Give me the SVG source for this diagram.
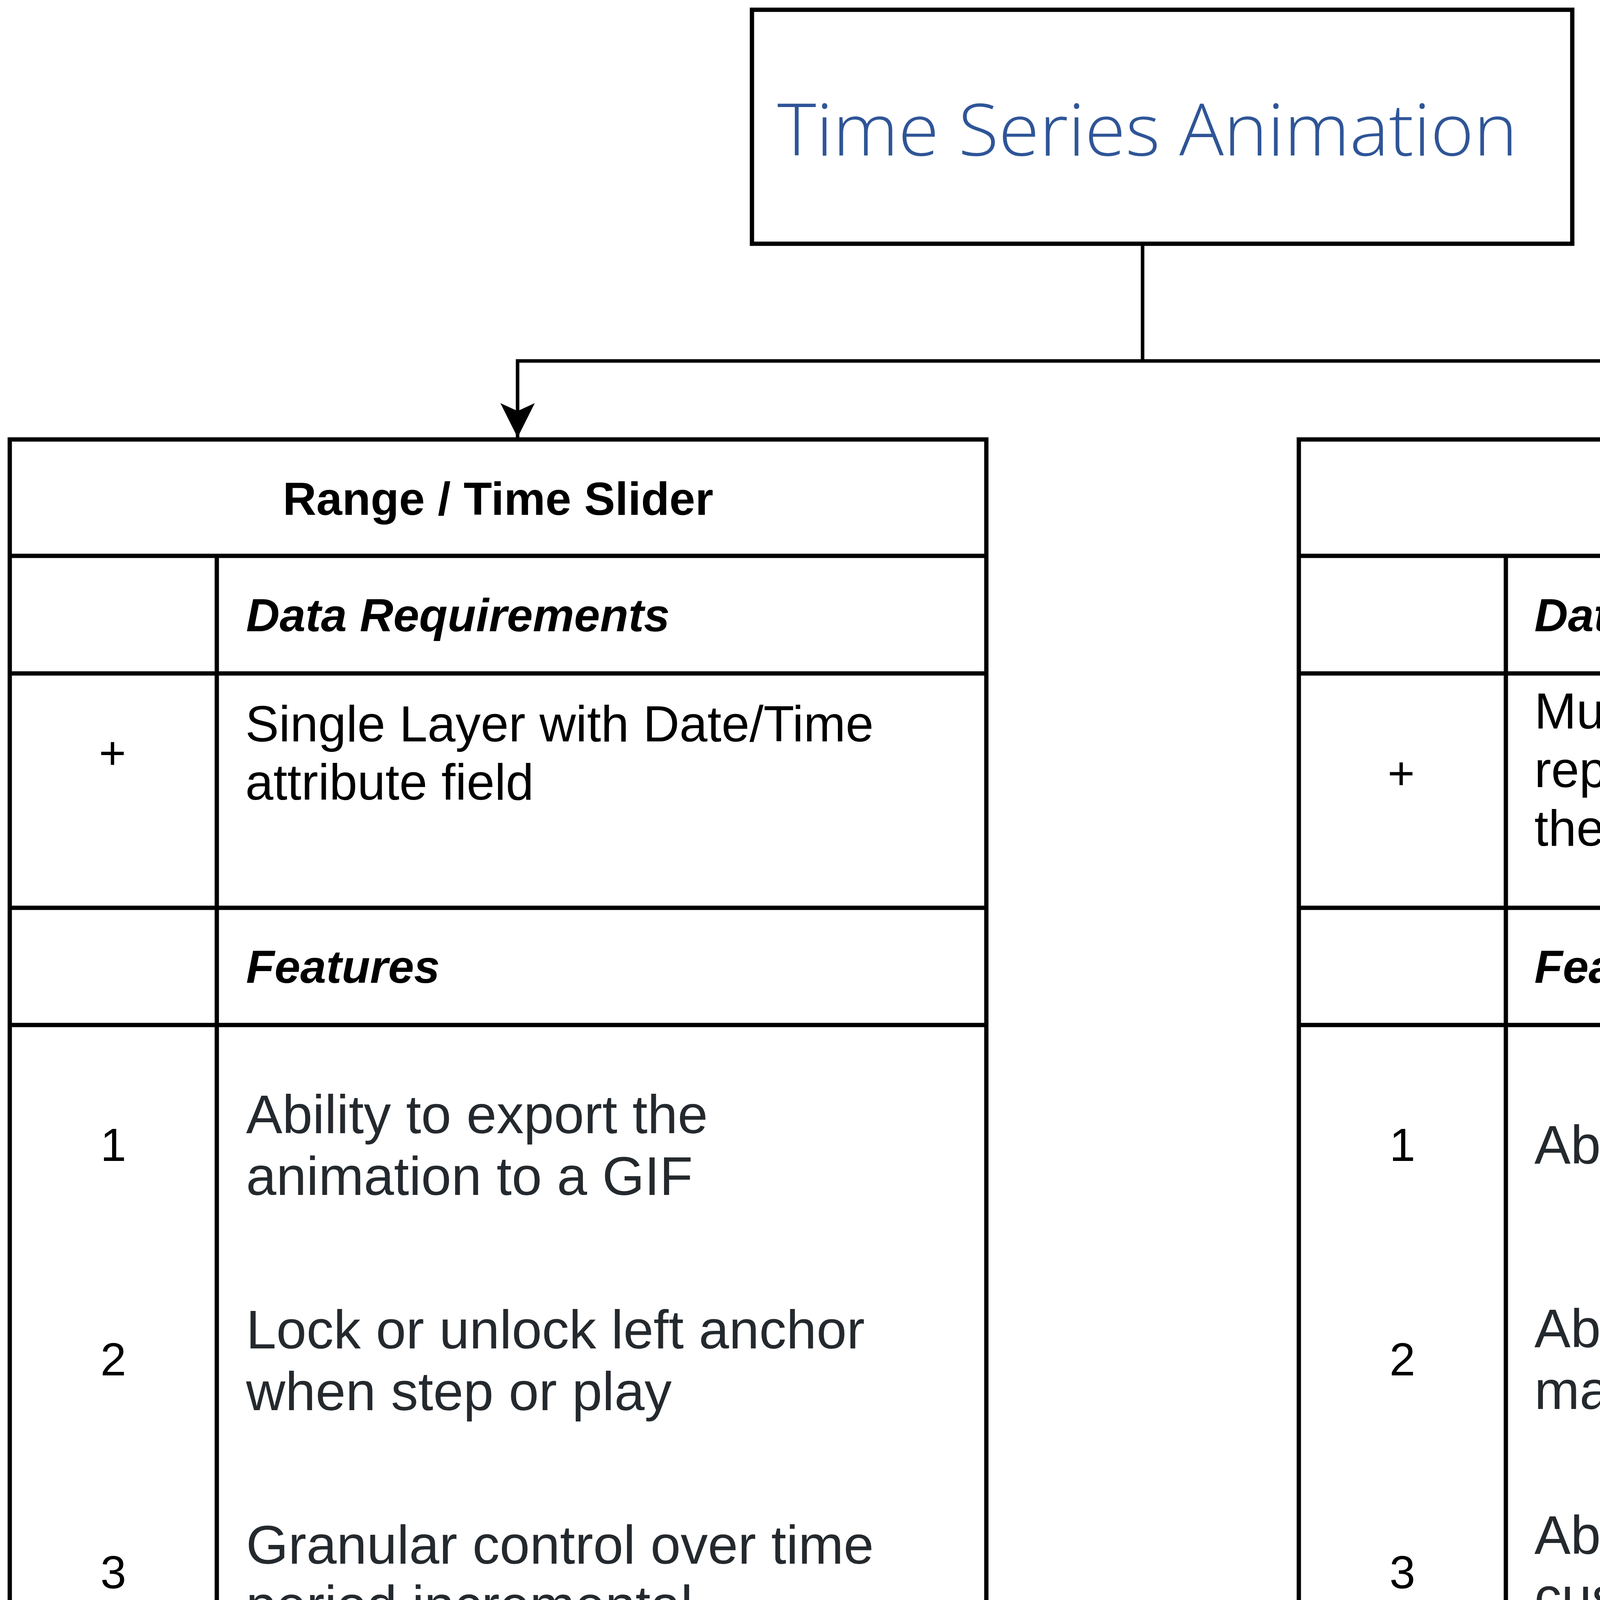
<svg xmlns="http://www.w3.org/2000/svg" width="5860" height="5350" viewBox="0 0 5860 5350">
<style>
.box{fill:#ffffff;stroke:#000000;stroke-width:11}
.ln{stroke:#000000;stroke-width:11;fill:none}
.conn{stroke:#000000;stroke-width:9;fill:none}
.title{font-family:"Open Sans","Noto Sans",sans-serif;font-weight:300;font-size:185px;fill:#2F5597}
.hdr{font-family:"Liberation Sans",Arial,sans-serif;font-weight:bold;font-size:119px;fill:#000000}
.sub{font-family:"Liberation Sans",Arial,sans-serif;font-weight:bold;font-style:italic;font-size:119px;fill:#000000}
.num{font-family:"Liberation Sans",Arial,sans-serif;font-size:119px;fill:#000000;text-anchor:middle}
.cnt{font-family:"Liberation Sans",Arial,sans-serif;font-size:129px;fill:#000000}
.item{font-family:"Liberation Sans",Arial,sans-serif;font-size:139px;fill:#24292E}
</style>
<defs>
<marker id="arrow" viewBox="0 0 100 100" refX="100" refY="50" markerUnits="userSpaceOnUse" markerWidth="88" markerHeight="88" orient="auto">
<path d="M100,50 L0,0 L23,50 L0,100 Z" fill="#000000"/>
</marker>
</defs>
<rect width="5860" height="5350" fill="#ffffff"/>

<g id="connectors">
<line class="conn" x1="2925" y1="629" x2="2925" y2="924"/>
<path class="conn" d="M2925,924 L1325,924 L1325,1120" marker-end="url(#arrow)"/>
<path class="conn" d="M2925,924 L4523,924 L4523,1120" marker-end="url(#arrow)"/>
</g>

<g id="node-time-series-animation">
<rect class="box" x="1925" y="25" width="2100" height="599"/>
<text class="title" x="1990" y="398" textLength="1895" lengthAdjust="spacingAndGlyphs">Time Series Animation</text>
</g>

<g id="node-range-time-slider">
<rect class="box" x="25" y="1125" width="2500" height="4199"/>
<line class="ln" x1="25" y1="1423" x2="2525" y2="1423"/>
<line class="ln" x1="25" y1="1724" x2="2525" y2="1724"/>
<line class="ln" x1="25" y1="2324" x2="2525" y2="2324"/>
<line class="ln" x1="25" y1="2624" x2="2525" y2="2624"/>
<line class="ln" x1="555" y1="1423" x2="555" y2="5324"/>
<text class="hdr" x="1275" y="1318" text-anchor="middle">Range / Time Slider</text>
<text class="sub" x="630" y="1616">Data Requirements</text>
<text class="num" x="288" y="1968">+</text>
<text class="cnt" x="628" y="1898">Single Layer with Date/Time</text>
<text class="cnt" x="628" y="2047">attribute field</text>
<text class="sub" x="630" y="2516">Features</text>
<text class="num" x="290" y="2972">1</text>
<text class="item" x="630" y="2901">Ability to export the</text>
<text class="item" x="630" y="3059">animation to a GIF</text>
<text class="num" x="290" y="3521">2</text>
<text class="item" x="630" y="3452">Lock or unlock left anchor</text>
<text class="item" x="630" y="3610">when step or play</text>
<text class="num" x="290" y="4066">3</text>
<text class="item" x="630" y="4003">Granular control over time</text>
<text class="item" x="630" y="4157">period incremental</text>
</g>

<g id="node-thematic-slider">
<rect class="box" x="3325" y="1125" width="2500" height="4199"/>
<line class="ln" x1="3325" y1="1423" x2="5825" y2="1423"/>
<line class="ln" x1="3325" y1="1724" x2="5825" y2="1724"/>
<line class="ln" x1="3325" y1="2324" x2="5825" y2="2324"/>
<line class="ln" x1="3325" y1="2624" x2="5825" y2="2624"/>
<line class="ln" x1="3855" y1="1423" x2="3855" y2="5324"/>
<text class="hdr" x="4575" y="1318" text-anchor="middle">Thematic Slider</text>
<text class="sub" x="3928" y="1616">Data Requirements</text>
<text class="num" x="3587" y="2020">+</text>
<text class="cnt" x="3928" y="1865">Multiple map layers each</text>
<text class="cnt" x="3928" y="2015">representing an individual</text>
<text class="cnt" x="3928" y="2165">theme.</text>
<text class="sub" x="3928" y="2516">Features</text>
<text class="num" x="3590" y="2972">1</text>
<text class="item" x="3928" y="2979">Ability to stack layers</text>
<text class="num" x="3590" y="3521">2</text>
<text class="item" x="3928" y="3449">Able to use multiple</text>
<text class="item" x="3928" y="3607">map layers</text>
<text class="num" x="3590" y="4066">3</text>
<text class="item" x="3928" y="3978">Ability to include</text>
<text class="item" x="3928" y="4136">customizable Title and</text>
<text class="item" x="3928" y="4296">Description text to add extra</text>
<text class="item" x="3928" y="4454">contextual information</text>
</g>
</svg>
